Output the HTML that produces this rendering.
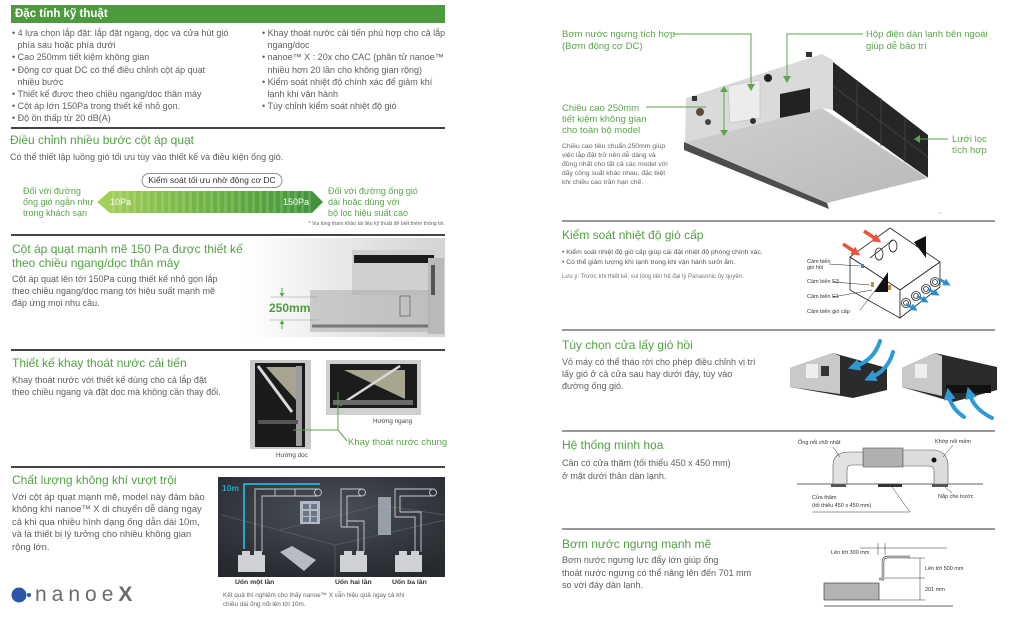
<!DOCTYPE html>
<html><head><meta charset="utf-8">
<style>
*{margin:0;padding:0;box-sizing:border-box}
body{width:1024px;height:621px;overflow:hidden;background:#fff;position:relative;font-family:"Liberation Sans","Noto Sans CJK SC",sans-serif;color:#5e5e5e}
.a{position:absolute;white-space:nowrap}
.t{color:#52a043;font-size:12px;line-height:15px}
.b{font-size:9px;line-height:12px;color:#5e5e5e}
.g{color:#5aa64a}
.i{padding-left:5.5px;display:block}
.s{font-size:5.5px;line-height:7px;color:#333}
svg{position:absolute;left:0;top:0}
</style></head><body>
<svg width="1024" height="621" viewBox="0 0 1024 621">
<defs>
<linearGradient id="pa" x1="0" x2="1" y1="0" y2="0"><stop offset="0" stop-color="#a9d15c"/><stop offset=".45" stop-color="#72b545"/><stop offset="1" stop-color="#3d9239"/></linearGradient>
<pattern id="st" width="7" height="30" patternUnits="userSpaceOnUse"><rect x="0" width="3" height="30" fill="#fff" opacity=".14"/></pattern>
<linearGradient id="g3" x1="0" x2="1" y1="0" y2="0"><stop offset="0" stop-color="#fff"/><stop offset=".4" stop-color="#ebecec"/><stop offset="1" stop-color="#d2d4d5"/></linearGradient>
<radialGradient id="dk" cx=".5" cy=".35" r=".7"><stop offset="0" stop-color="#4b5058"/><stop offset="1" stop-color="#26292e"/></radialGradient>
<linearGradient id="bf" x1="0" x2="1" y1="0" y2="1"><stop offset="0" stop-color="#d0d0d0"/><stop offset="1" stop-color="#b9b9b9"/></linearGradient>
<marker id="ab" viewBox="0 0 10 10" refX="3" refY="5" markerWidth="3" markerHeight="3" orient="auto"><path d="M0,0 L10,5 L0,10z" fill="#2e9bd6"/></marker>
<marker id="ab2" viewBox="0 0 10 10" refX="3" refY="5" markerWidth="3" markerHeight="3" orient="auto"><path d="M0,0 L10,5 L0,10z" fill="#2e8fd0"/></marker>
<marker id="ar" viewBox="0 0 10 10" refX="3" refY="5" markerWidth="2.6" markerHeight="2.6" orient="auto"><path d="M0,0 L10,5 L0,10z" fill="#e9553b"/></marker>
</defs>

<!-- dividers -->
<g stroke="#444" stroke-width="2">
<line x1="11" y1="128" x2="445" y2="128"/>
<line x1="11" y1="235" x2="445" y2="235"/>
<line x1="11" y1="350" x2="445" y2="350"/>
<line x1="11" y1="467" x2="445" y2="467"/>
</g>
<g stroke="#777" stroke-width="1.5">
<line x1="562" y1="221" x2="995" y2="221"/>
<line x1="562" y1="330" x2="995" y2="330"/>
<line x1="562" y1="431" x2="995" y2="431"/>
<line x1="562" y1="529" x2="995" y2="529"/>
</g>

<!-- Pa bar -->
<polygon points="97,202 110,191 312,191 323,202 312,213 110,213" fill="url(#pa)"/>
<polygon points="110,191 312,191 312,213 110,213" fill="url(#st)"/>
<rect x="142" y="173.5" width="140" height="14" rx="7" fill="#fff" stroke="#777" stroke-width=".8"/>

<!-- section 3 image -->
<rect x="245" y="238" width="200" height="99" fill="url(#g3)"/>
<rect x="352" y="250" width="84" height="45" fill="#cfd0d0"/>
<rect x="354" y="255" width="80" height="8" fill="#1c1c1c"/>
<rect x="428" y="258" width="16" height="76" fill="#b9babb"/>
<rect x="431" y="265" width="4" height="30" fill="#555"/>
<rect x="310" y="290" width="120" height="42" fill="#a9abad" opacity=".55"/>
<line x1="312" y1="326" x2="428" y2="326" stroke="#444" stroke-width="3" opacity=".6"/>
<rect x="400" y="296" width="10" height="20" fill="none" stroke="#666" stroke-width=".8"/>
<line x1="270" y1="297" x2="318" y2="297" stroke="#999" stroke-width=".6"/>
<line x1="270" y1="320" x2="318" y2="320" stroke="#999" stroke-width=".6"/>
<line x1="282" y1="288" x2="282" y2="294" stroke="#5aa64a" stroke-width="1"/>
<polygon points="279.5,293 284.5,293 282,297" fill="#5aa64a"/>
<line x1="282" y1="323" x2="282" y2="329" stroke="#5aa64a" stroke-width="1"/>
<polygon points="279.5,324 284.5,324 282,320" fill="#5aa64a"/>

<!-- section 4 images -->
<rect x="250" y="360" width="61" height="89" fill="#c9c9c9"/>
<rect x="255" y="363" width="50" height="84" fill="#1b1b1b"/>
<polygon points="266,367 296,367 296,400" fill="#a7a592"/>
<line x1="258" y1="366" x2="292" y2="412" stroke="#d8d8d8" stroke-width="3"/>
<rect x="296" y="366" width="6" height="80" fill="#9c9c9c"/>
<rect x="258" y="420" width="40" height="4" fill="#555"/>
<rect x="326" y="360" width="95" height="55" fill="#cfcfcf"/>
<rect x="330" y="364" width="87" height="44" fill="#1c1c1c"/>
<polygon points="344,370 405,370 405,399" fill="#a8a690"/>
<line x1="340" y1="405" x2="400" y2="366" stroke="#d8d8d8" stroke-width="2.5"/>
<rect x="333" y="400" width="80" height="5" fill="#6a6a6a"/>
<g stroke="#5aa64a" stroke-width="1" fill="none">
<polyline points="293,430 338,430"/>
<line x1="338" y1="392" x2="338" y2="430"/>
<line x1="338" y1="430" x2="347" y2="441"/>
</g>

<!-- section 5 dark image -->
<rect x="218" y="477" width="227" height="100" fill="url(#dk)"/>
<g stroke="#5a6068" stroke-width=".7" fill="none">
<line x1="222" y1="515" x2="335" y2="545"/>
<line x1="335" y1="545" x2="445" y2="520"/>
<line x1="335" y1="545" x2="335" y2="577"/>
<line x1="280" y1="530" x2="380" y2="505"/>
<line x1="380" y1="505" x2="445" y2="515"/>
</g>
<g stroke="#c9cdd2" stroke-width=".9" fill="none">
<path d="M255 552 V489 H318 M262 552 V496 H318"/>
<circle cx="318" cy="492.5" r="3.5"/>
<line x1="275" y1="489" x2="275" y2="496"/><line x1="295" y1="489" x2="295" y2="496"/>
<path d="M341 527 V489 H362 M347 527 V496 H362 M341 527 H358 V552 M347 521 H364 V552"/>
<circle cx="362" cy="492.5" r="3.5"/>
<path d="M395 517 V489 H433 M400 512 V496 H433 M395 517 H415 V552 M400 512 H421 V552"/>
<circle cx="433" cy="492.5" r="3.5"/>
</g>
<rect x="300" y="501" width="20" height="23" fill="#c5cdd8" opacity=".85"/>
<g fill="#6d7886"><rect x="303" y="504" width="6" height="5"/><rect x="311" y="504" width="6" height="5"/><rect x="303" y="511" width="6" height="5"/><rect x="311" y="511" width="6" height="5"/><rect x="303" y="517" width="6" height="5"/><rect x="311" y="517" width="6" height="5"/></g>
<polygon points="280,552 292,546 316,560 304,571" fill="#b8bcc2"/>
<rect x="378" y="497" width="13" height="38" fill="#aeb6c2" opacity=".8"/>
<g fill="#cfd1d4">
<rect x="238" y="555" width="27" height="17"/><rect x="242" y="551" width="8" height="4"/><rect x="254" y="551" width="8" height="4"/>
<rect x="340" y="555" width="27" height="17"/><rect x="344" y="551" width="8" height="4"/><rect x="356" y="551" width="8" height="4"/>
<rect x="395" y="555" width="27" height="17"/><rect x="399" y="551" width="8" height="4"/><rect x="411" y="551" width="8" height="4"/>
</g>
<path d="M244 549 V484 H320" stroke="#23a6c9" stroke-width="2" fill="none"/>

<!-- nanoe logo -->
<circle cx="19" cy="595" r="7.5" fill="#2b55a8"/>
<circle cx="29" cy="595" r="2" fill="#2b55a8"/>

<!-- right top product -->
<polygon points="685,142 822,108 928,178 827,203" fill="url(#bf)"/>
<polygon points="684,142 827,203 829,209 684,150" fill="#4d4d4d"/>
<polygon points="686,98 822,54 833,60 833,110 822,108 685,142" fill="#dadada"/>
<polygon points="833,62 928,135 928,178 833,110" fill="#262626"/>
<g stroke="#444" stroke-width=".8">
<line x1="857" y1="80" x2="857" y2="128"/><line x1="881" y1="98" x2="881" y2="146"/><line x1="905" y1="117" x2="905" y2="163"/>
<line x1="833" y1="86" x2="928" y2="157"/>
</g>
<line x1="822" y1="108" x2="928" y2="178" stroke="#e6e6e6" stroke-width=".8"/>
<polygon points="728,86 760,80 760,118 730,123" fill="#ececec" stroke="#bbb" stroke-width=".6"/>
<polygon points="780,94 810,88 810,112 780,118" fill="#222"/>
<circle cx="768" cy="78" r="4" fill="#222"/>
<circle cx="753" cy="121" r="3" fill="#333"/>
<circle cx="700" cy="112" r="4" fill="#5a4a3a"/>
<circle cx="708" cy="122" r="3" fill="#444"/>
<rect x="692" y="96" width="5" height="5" fill="#333"/>
<rect x="806" y="52" width="6" height="5" fill="#333"/>
<g stroke="#5aa64a" stroke-width="1" fill="none">
<polyline points="673,34 751,34 751,85"/>
<polyline points="863,34 787,34 787,76"/>
<line x1="646" y1="107" x2="706" y2="107"/>
<line x1="724" y1="90" x2="724" y2="132"/>
<line x1="948" y1="139" x2="918" y2="139"/>
</g>
<g fill="#5aa64a">
<polygon points="747,84 755,84 751,91"/>
<polygon points="783,76 791,76 787,83"/>
<polygon points="720,92 728,92 724,86"/>
<polygon points="720,130 728,130 724,136"/>
<polygon points="920,135 920,143 914,139"/>
</g>
<line x1="938" y1="213" x2="942" y2="213" stroke="#ccc" stroke-width=".8"/>

<!-- sensor diagram -->
<g stroke="#222" stroke-width=".8" fill="#fff" stroke-linejoin="round">
<polygon points="850,257 890,228 940,262 900,290"/>
<polygon points="850,257 900,290 900,318 850,290"/>
<polygon points="900,290 940,262 940,287 900,318"/>
<ellipse cx="879" cy="254" rx="4" ry="6"/>
<ellipse cx="893" cy="246" rx="4" ry="6"/>
<line x1="870" y1="258" x2="893" y2="240"/>
<g fill="#fff"><circle cx="906" cy="303" r="4.5"/><circle cx="916" cy="296" r="4.5"/><circle cx="926" cy="289" r="4.5"/><circle cx="935" cy="282" r="4.5"/></g>
<g fill="none"><circle cx="906" cy="303" r="2.5"/><circle cx="916" cy="296" r="2.5"/><circle cx="926" cy="289" r="2.5"/><circle cx="935" cy="282" r="2.5"/></g>
</g>
<polygon points="914,242 926,236 926,258" fill="#111"/>
<polygon points="874,292 888,272 888,292" fill="#111"/>
<rect x="861" y="264" width="3" height="4" fill="#5c7fa0"/>
<rect x="871" y="282" width="3" height="5" fill="#c98b3a"/>
<rect x="888" y="285" width="3" height="5" fill="#c98b3a"/>
<g stroke="#e9553b" stroke-width="3.5" fill="none">
<line x1="843" y1="244" x2="855" y2="252" marker-end="url(#ar)"/>
<line x1="864" y1="231" x2="876" y2="239" marker-end="url(#ar)"/>
</g>
<g stroke="#2e8fd0" stroke-width="2.5" fill="none">
<line x1="906" y1="304" x2="913" y2="308" marker-end="url(#ab2)"/>
<line x1="917" y1="296" x2="924" y2="300" marker-end="url(#ab2)"/>
<line x1="928" y1="289" x2="935" y2="293" marker-end="url(#ab2)"/>
<line x1="939" y1="279" x2="946" y2="283" marker-end="url(#ab2)"/>
</g>
<g stroke="#222" stroke-width=".5" fill="none">
<line x1="829" y1="264" x2="860" y2="266"/>
<line x1="834" y1="282" x2="870" y2="285"/>
<line x1="833" y1="297" x2="872" y2="290"/>
<line x1="860" y1="310" x2="874" y2="292"/>
</g>

<!-- return air option units -->
<polygon points="790,368 833,353 887,368 887,390 853,398 790,387" fill="#2b2b2b"/>
<polygon points="790,368 833,353 840,356 840,394 790,387" fill="#c9c9c9"/>
<rect x="806" y="364" width="12" height="14" fill="#eee"/>
<rect x="821" y="366" width="8" height="10" fill="#333"/>
<polygon points="902,368 935,353 997,367 997,390 953,402 902,387" fill="#2b2b2b"/>
<polygon points="902,368 935,353 942,356 942,396 902,387" fill="#c9c9c9"/>
<rect x="915" y="364" width="12" height="14" fill="#eee"/>
<rect x="946" y="385" width="45" height="8" fill="#111"/>
<g stroke="#2e9bd6" stroke-width="4" fill="none" stroke-linecap="round">
<path d="M880 341 Q874 360 856 366" marker-end="url(#ab)"/>
<path d="M893 352 Q888 370 872 377" marker-end="url(#ab)"/>
<path d="M964 417 Q951 408 949 396" marker-end="url(#ab)"/>
<path d="M992 418 Q974 409 970 395" marker-end="url(#ab)"/>
</g>

<!-- system diagram -->
<line x1="797" y1="484" x2="983" y2="484" stroke="#333" stroke-width=".8"/>
<rect x="863" y="448" width="40" height="19" fill="#b0b0b0" stroke="#555" stroke-width=".6"/>
<path d="M833 484 V466 Q833 452 849 452 H863 V465 H852 Q847 465 847 470 V484 Z" fill="#e2e2e2" stroke="#555" stroke-width=".6"/>
<path d="M903 450 H935 Q948 452 948 466 V484 H934 V470 Q934 466 928 466 H903 Z" fill="#dcdcdc" stroke="#555" stroke-width=".6"/>
<circle cx="934" cy="460" r="2.5" fill="#111"/>
<rect x="831" y="484" width="15" height="3" fill="#555"/>
<rect x="878" y="484" width="24" height="3" fill="#333"/>
<rect x="932" y="484" width="16" height="3" fill="#555"/>
<g stroke="#333" stroke-width=".5" fill="none">
<line x1="833" y1="447" x2="840" y2="457"/>
<line x1="953" y1="445" x2="943" y2="457"/>
<polyline points="812,512 910,512 892,487"/>
<line x1="945" y1="487" x2="952" y2="493"/>
</g>

<!-- pump diagram -->
<rect x="824" y="583" width="55" height="17" fill="#b3b3b3" stroke="#444" stroke-width=".7"/>
<line x1="824" y1="606" x2="953" y2="606" stroke="#333" stroke-width=".7"/>
<path d="M879 579 H883 V562 Q883 557 888 557 H910" stroke="#444" stroke-width="2.4" fill="none"/>
<path d="M879 579 H883 V562 Q883 557 888 557 H910" stroke="#fff" stroke-width="1" fill="none"/>
<g stroke="#333" stroke-width=".5" fill="none">
<line x1="860" y1="548" x2="947" y2="548"/>
<line x1="878" y1="543" x2="878" y2="555"/>
<line x1="885" y1="543" x2="885" y2="555"/>
<line x1="908" y1="558" x2="925" y2="558"/>
<line x1="885" y1="578" x2="925" y2="578"/>
<line x1="879" y1="600" x2="925" y2="600"/>
<line x1="920" y1="558" x2="920" y2="600"/>
</g>
</svg>

<!-- LEFT PAGE TEXT -->
<div class="a" style="left:11px;top:5px;width:434px;height:18px;background:#4e9a3f;color:#fff;font-weight:bold;font-size:11.5px;line-height:18px;padding-left:4px">Đặc tính kỹ thuật</div>
<div class="a b" style="left:12px;top:27px;line-height:12.2px">• 4 lựa chọn lắp đặt: lắp đặt ngang, dọc và cửa hút gió<span class="i">phía sau hoặc phía dưới</span>• Cao 250mm tiết kiệm không gian<br>• Động cơ quạt DC có thể điều chỉnh cột áp quạt<span class="i">nhiều bước</span>• Thiết kế được theo chiều ngang/dọc thân máy<br>• Cột áp lớn 150Pa trong thiết kế nhỏ gọn.<br>• Độ ồn thấp từ 20 dB(A)</div>
<div class="a b" style="left:262px;top:27px;line-height:12.2px">• Khay thoát nước cải tiến phù hợp cho cả lắp<span class="i">ngang/dọc</span>• nanoe™ X : 20x cho CAC (phân tử nanoe™<span class="i">nhiều hơn 20 lần cho không gian rộng)</span>• Kiểm soát nhiệt độ chính xác để giảm khí<span class="i">lạnh khi vận hành</span>• Tùy chỉnh kiểm soát nhiệt độ gió</div>

<div class="a t" style="left:10px;top:133px">Điều chỉnh nhiều bước cột áp quạt</div>
<div class="a b" style="left:10px;top:151px">Có thể thiết lập luồng gió tối ưu tùy vào thiết kế và điều kiện ống gió.</div>
<div class="a" style="left:142px;top:174px;width:140px;text-align:center;font-size:8.5px;line-height:13px;color:#333">Kiểm soát tối ưu nhờ động cơ DC</div>
<div class="a b g" style="left:23px;top:185.5px;line-height:11px">Đối với đường<br>ống gió ngắn như<br>trong khách sạn</div>
<div class="a b g" style="left:328px;top:185.5px;line-height:11px">Đối với đường ống gió<br>dài hoặc dùng với<br>bộ lọc hiệu suất cao</div>
<div class="a" style="left:110px;top:196px;font-size:9px;line-height:12px;color:#fff">10Pa</div>
<div class="a" style="left:283px;top:196px;font-size:9px;line-height:12px;color:#fff">150Pa</div>
<div class="a" style="right:579px;top:221px;font-size:5.2px;line-height:7px;color:#666">* Vui lòng tham khảo tài liệu kỹ thuật để biết thêm thông tin.</div>

<div class="a t" style="left:12px;top:243px;line-height:13.5px">Cột áp quạt mạnh mẽ 150 Pa được thiết kế<br>theo chiều ngang/dọc thân máy</div>
<div class="a b" style="left:12px;top:273px">Cột áp quạt lên tới 150Pa cùng thiết kế nhỏ gọn lắp<br>theo chiều ngang/dọc mang tới hiệu suất mạnh mẽ<br>đáp ứng mọi nhu cầu.</div>
<div class="a" style="left:269px;top:301px;font-size:12px;line-height:14px;font-weight:bold;color:#4e9a3f">250mm</div>

<div class="a t" style="left:12px;top:355.5px">Thiết kế khay thoát nước cải tiến</div>
<div class="a b" style="left:12px;top:375px;line-height:11.6px">Khay thoát nước với thiết kế dùng cho cả lắp đặt<br>theo chiều ngang và đặt dọc mà không cần thay đổi.</div>
<div class="a" style="left:373px;top:417.5px;font-size:6.3px;line-height:7px;color:#444">Hướng ngang</div>
<div class="a" style="left:276px;top:451.5px;font-size:6.3px;line-height:7px;color:#444">Hướng dọc</div>
<div class="a g" style="left:348px;top:437px;font-size:9.5px;line-height:12px">Khay thoát nước chung</div>

<div class="a t" style="left:12px;top:472.5px">Chất lượng không khí vượt trội</div>
<div class="a b" style="left:12px;top:490.75px;font-size:9.4px;line-height:12.5px">Với cột áp quạt mạnh mẽ, model này đảm bảo<br>không khí nanoe™ X di chuyển dễ dàng ngay<br>cả khi qua nhiều hình dạng ống dẫn dài 10m,<br>và là thiết bị lý tưởng cho nhiều không gian<br>rộng lớn.</div>
<div class="a" style="left:222px;top:483px;font-size:8.5px;line-height:10px;font-weight:bold;color:#23a6c9">10m</div>
<div class="a" style="left:235px;top:579px;font-size:6.8px;line-height:8px;color:#333;font-weight:bold">Uốn một lần</div>
<div class="a" style="left:335px;top:579px;font-size:6.8px;line-height:8px;color:#333;font-weight:bold">Uốn hai lần</div>
<div class="a" style="left:392px;top:579px;font-size:6.8px;line-height:8px;color:#333;font-weight:bold">Uốn ba lần</div>
<div class="a" style="left:223px;top:591px;font-size:6.3px;line-height:9px;color:#666">Kết quả thí nghiệm cho thấy nanoe™ X vẫn hiệu quả ngay cả khi<br>chiều dài ống nối lên tới 10m.</div>
<div class="a" style="left:35px;top:582px;font-size:21px;line-height:26px;letter-spacing:5px;color:#6b6b6b">nanoe<b>X</b></div>

<!-- RIGHT PAGE TEXT -->
<div class="a g" style="left:562px;top:29px;font-size:9.5px;line-height:12px">Bơm nước ngưng tích hợp<br>(Bơm động cơ DC)</div>
<div class="a g" style="left:866px;top:29px;font-size:9.5px;line-height:12px">Hộp điện dàn lạnh bên ngoài<br>giúp dễ bảo trì</div>
<div class="a g" style="left:562px;top:102.5px;font-size:9.5px;line-height:11px">Chiều cao 250mm<br>tiết kiệm không gian<br>cho toàn bộ model</div>
<div class="a" style="left:562px;top:141.5px;font-size:6.8px;line-height:9px;color:#666">Chiều cao tiêu chuẩn 250mm giúp<br>việc lắp đặt trở nên dễ dàng và<br>đồng nhất cho tất cả các model với<br>dãy công suất khác nhau, đặc biệt<br>khi chiều cao trần hạn chế.</div>
<div class="a g" style="left:952px;top:133.5px;font-size:9.5px;line-height:11px">Lưới lọc<br>tích hợp</div>

<div class="a t" style="left:562px;top:227.5px">Kiểm soát nhiệt độ gió cấp</div>
<div class="a" style="left:562px;top:248px;font-size:6.8px;line-height:10px;color:#555">• Kiểm soát nhiệt độ gió cấp giúp cài đặt nhiệt độ phòng chính xác.<br>• Có thể giảm lượng khí lạnh trong khi vận hành sưởi ấm.</div>
<div class="a" style="left:562px;top:273px;font-size:6px;line-height:8px;color:#777">Lưu ý: Trước khi thiết kế, vui lòng liên hệ đại lý Panasonic ủy quyền.</div>
<div class="a s" style="left:807px;top:259px;line-height:6px">Cảm biến<br>gió hồi</div>
<div class="a s" style="left:807px;top:278.5px">Cảm biến E3</div>
<div class="a s" style="left:807px;top:293.5px">Cảm biến E1</div>
<div class="a s" style="left:807px;top:308.5px">Cảm biến gió cấp</div>

<div class="a t" style="left:562px;top:337.5px">Tùy chọn cửa lấy gió hồi</div>
<div class="a b" style="left:562px;top:356px">Vỏ máy có thể tháo rời cho phép điều chỉnh vị trí<br>lấy gió ở cả cửa sau hay dưới đáy, tùy vào<br>đường ống gió.</div>

<div class="a t" style="left:562px;top:437.5px">Hệ thống minh họa</div>
<div class="a b" style="left:562px;top:456.5px;line-height:13.4px">Cần có cửa thăm (tối thiểu 450 x 450 mm)<br>ở mặt dưới thân dàn lạnh.</div>
<div class="a s" style="left:798px;top:439.5px">Ống nối chữ nhật</div>
<div class="a s" style="left:935px;top:438.5px">Khớp nối mềm</div>
<div class="a s" style="left:812px;top:494px;line-height:8px">Cửa thăm<br>(tối thiểu 450 x 450 mm)</div>
<div class="a s" style="left:938px;top:494px">Nắp che trước</div>

<div class="a t" style="left:562px;top:536.5px">Bơm nước ngưng mạnh mẽ</div>
<div class="a b" style="left:562px;top:554px;line-height:12.5px">Bơm nước ngưng lực đẩy lớn giúp ống<br>thoát nước ngưng có thể nâng lên đến 701 mm<br>so với đáy dàn lạnh.</div>
<div class="a s" style="left:831px;top:549.5px">Lên tới 300 mm</div>
<div class="a s" style="left:925px;top:565.5px">Lên tới 500 mm</div>
<div class="a s" style="left:925px;top:586.5px">201 mm</div>
</body></html>
